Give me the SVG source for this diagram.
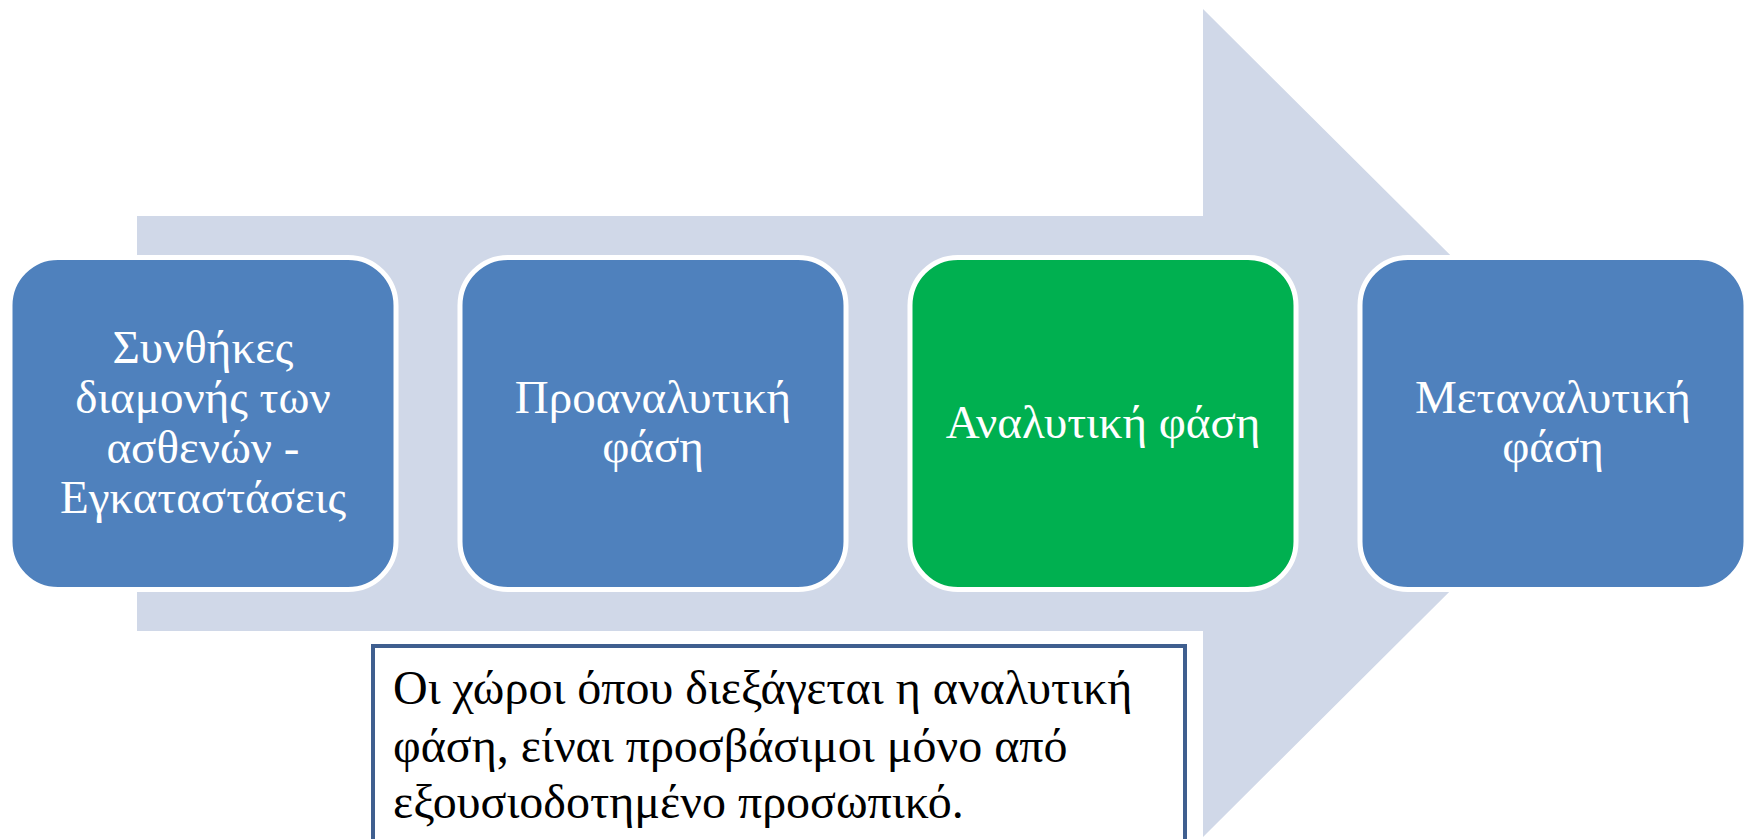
<svg xmlns="http://www.w3.org/2000/svg" width="1752" height="839" viewBox="0 0 1752 839">
<style>
.node{stroke:#FFFFFF;stroke-width:5}
.blue{fill:#4F81BD}
.green{fill:#00B050}
.lbl{font-family:"Liberation Serif","Times New Roman",serif;font-size:47px;fill:#FFFFFF;text-anchor:middle}
.note{font-family:"Liberation Serif","Times New Roman",serif;font-size:48px;fill:#000000}
</style>
<rect width="1752" height="839" fill="#FFFFFF"/>
<g id="connectors">
<polygon points="137,216 1203,216 1203,9 1619,423 1203,837 1203,631 137,631" fill="#D0D8E8"/>
</g>
<g id="node1">
<rect class="node blue" x="10" y="257.5" width="386" height="332" rx="48"/>
<text class="lbl" x="203" y="363">Συνθήκες</text>
<text class="lbl" x="203" y="413">διαμονής των</text>
<text class="lbl" x="203" y="463">ασθενών -</text>
<text class="lbl" x="203" y="513">Εγκαταστάσεις</text>
</g>
<g id="node2">
<rect class="node blue" x="460" y="257.5" width="386" height="332" rx="48"/>
<text class="lbl" x="653" y="413">Προαναλυτική</text>
<text class="lbl" x="653" y="462">φάση</text>
</g>
<g id="node3">
<rect class="node green" x="910" y="257.5" width="386" height="332" rx="48"/>
<text class="lbl" x="1103" y="438">Αναλυτική φάση</text>
</g>
<g id="node4">
<rect class="node blue" x="1360" y="257.5" width="386" height="332" rx="48"/>
<text class="lbl" x="1553" y="413">Μεταναλυτική</text>
<text class="lbl" x="1553" y="462">φάση</text>
</g>
<g id="note">
<rect x="373" y="646" width="812" height="230" fill="#FFFFFF" stroke="#3F5F8F" stroke-width="4"/>
<text class="note" x="393" y="704">Οι χώροι όπου διεξάγεται η αναλυτική</text>
<text class="note" x="393" y="762">φάση, είναι προσβάσιμοι μόνο από</text>
<text class="note" x="393" y="818">εξουσιοδοτημένο προσωπικό.</text>
</g>
</svg>
